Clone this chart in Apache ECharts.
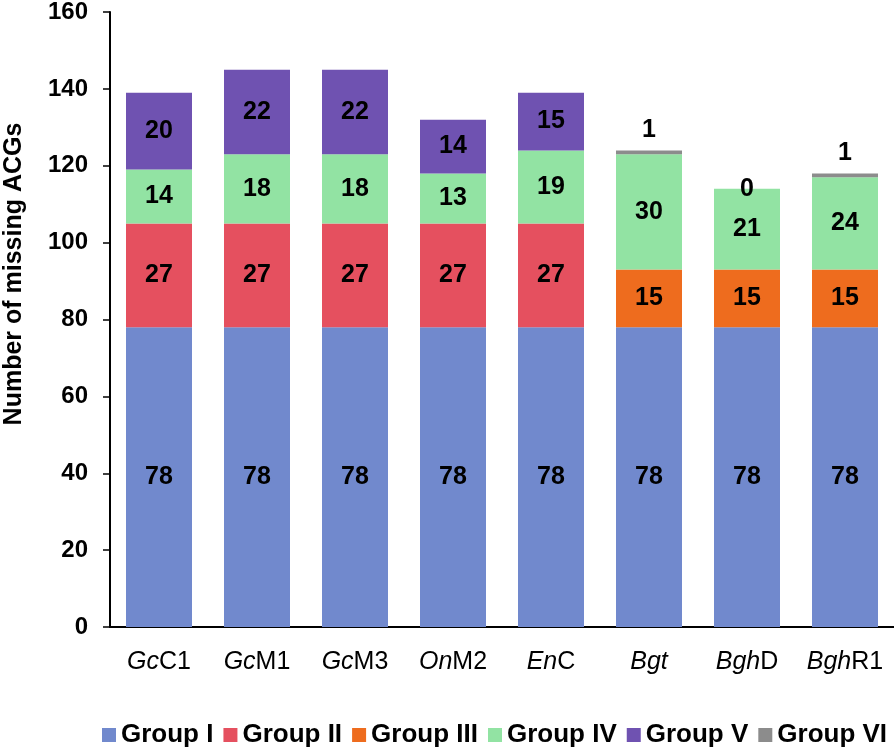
<!DOCTYPE html>
<html>
<head>
<meta charset="utf-8">
<script src="https://cdn.jsdelivr.net/npm/echarts@6/dist/echarts.min.js"></script>
<style>
html,body{margin:0;padding:0;background:#fff;}
#chart{width:894px;height:750px;}
</style>
</head>
<body>
<div id="chart"></div>
<script>
// ---- data ----
const categories = ['GcC1', 'GcM1', 'GcM3', 'OnM2', 'EnC', 'Bgt', 'BghD', 'BghR1'];
const italicParts = ['Gc', 'Gc', 'Gc', 'On', 'En', 'Bgt', 'Bgh', 'Bgh'];
const seriesNames = ['Group I', 'Group II', 'Group III', 'Group IV', 'Group V', 'Group VI'];
const groupI   = [78, 78, 78, 78, 78, 78, 78, 78];
const groupII  = [27, 27, 27, 27, 27, null, null, null];
const groupIII = [null, null, null, null, null, 15, 15, 15];
const groupIV  = [14, 18, 18, 13, 19, 30, 21, 24];
const groupV   = [20, 22, 22, 14, 15, null, null, null];
const groupVI  = [null, null, null, null, null, 1, 0, 1];
const yTicks = [0, 20, 40, 60, 80, 100, 120, 140, 160];

const colors = ['#7189CD', '#E5505F', '#EE6C1E', '#92E3A3', '#6F52B1', '#8C8C8C'];
const FONT = 'Liberation Sans, Arial, sans-serif';

const chart = echarts.init(document.getElementById('chart'), null, {renderer: 'canvas'});

const allData = [groupI, groupII, groupIII, groupIV, groupV, groupVI];

const series = allData.map((arr, si) => {
  const isTop = si === 5;
  return {
    name: seriesNames[si],
    type: 'bar',
    stack: 'total',
    barWidth: 66,
    itemStyle: {color: colors[si]},
    label: {
      show: true,
      position: isTop ? 'top' : 'inside',
      distance: 8,
      color: '#000',
      fontFamily: FONT,
      fontWeight: 'bold',
      fontSize: 25,
      formatter: p => (p.value === null || p.value === undefined) ? '' : String(p.value)
    },
    data: arr.map(v => {
      if (isTop && v === 0) {
        return {value: v, label: {position: 'inside'}};
      }
      return v;
    })
  };
});

const option = {
  animation: false,
  backgroundColor: '#fff',
  color: colors,
  grid: {left: 110, top: 11, width: 786, height: 616, containLabel: false},
  legend: {
    left: 100,
    bottom: 2,
    padding: [0, 2],
    icon: 'rect',
    itemWidth: 14,
    itemHeight: 14,
    itemGap: 10,
    textStyle: {fontFamily: FONT, fontWeight: 'bold', fontSize: 26, color: '#000'},
    data: seriesNames
  },
  xAxis: {
    type: 'category',
    data: categories,
    axisLine: {show: true, lineStyle: {color: '#000', width: 2}},
    axisTick: {show: false},
    axisLabel: {
      margin: 23,
      interval: 0,
      formatter: (val, idx) => {
        const it = italicParts[idx];
        const rest = val.slice(it.length);
        return '{i|' + it + '}' + (rest ? '{n|' + rest + '}' : '');
      },
      rich: {
        i: {fontFamily: FONT, fontStyle: 'italic', fontSize: 25, color: '#000'},
        n: {fontFamily: FONT, fontSize: 25, color: '#000'}
      }
    }
  },
  yAxis: {
    type: 'value',
    min: yTicks[0],
    max: yTicks[yTicks.length - 1],
    interval: yTicks[1] - yTicks[0],
    splitLine: {show: false},
    axisLine: {show: true, lineStyle: {color: '#000', width: 2}},
    axisTick: {show: true, inside: false, length: 7, lineStyle: {color: '#000', width: 1.5}},
    axisLabel: {margin: 22, fontFamily: FONT, fontWeight: 'bold', fontSize: 24, color: '#000'}
  },
  graphic: [{
    type: 'text',
    x: 14,
    y: 274,
    rotation: Math.PI / 2,
    style: {
      text: 'Number of missing ACGs',
      font: 'bold 25px ' + FONT,
      fill: '#000',
      textAlign: 'center',
      textVerticalAlign: 'middle'
    }
  }],
  series: series
};

chart.setOption(option);
</script>
</body>
</html>
